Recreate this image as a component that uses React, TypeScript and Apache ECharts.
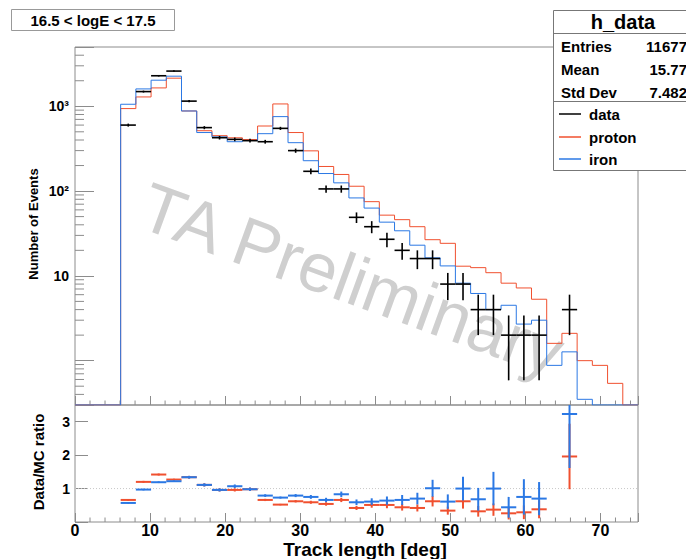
import React, { useEffect, useRef } from 'react';
import * as echarts from 'echarts';

// ---- binning: 37 bins over [0, 75] deg ----
const BIN_COUNT = 37;
const X_MIN = 0;
const X_MAX = 75;
const Y_MIN = 0.3;
const Y_MAX = 5000;

// ---- upper pad: counts per bin (bin 0 .. 36) ----
const dataCounts = [
  0, 0, 0, 600, 1490, 2290, 2600, 1150, 560, 426, 407, 393, 382, 549, 300, 171, 106, 106, 49,
  38, 27, 20, 16, 16, 8, 8, 4, 4, 2, 2, 2, 0, 4, 0, 0, 0, 0,
];
const protonCounts = [
  0, 0, 0, 939, 1288, 1646, 2144, 880, 515, 450, 425, 405, 585, 1065, 490, 298, 195, 157, 114,
  75, 52, 46, 38, 26.7, 24.2, 13, 12.5, 10.9, 8.2, 7.2, 5.3, 1.6, 2.1, 1.0, 0.88, 0.54, 0,
];
const ironCounts = [
  0, 0, 0, 1056, 1602, 2030, 2264, 880, 490, 435, 382, 395, 475, 755, 372, 228, 161, 125, 83,
  63, 43, 34, 23, 16.3, 13.1, 8.2, 6.2, 4.0, 4.5, 2.7, 3.0, 0.88, 1.27, 0.35, 0, 0, 0,
];

// ---- lower pad: data / MC ratios per bin ----
const ratioProton = [
  null, null, null, 0.66, 1.2, 1.42, 1.27, 1.34, 1.11, 0.96, 0.96, 0.98, 0.66, 0.52, 0.62, 0.59,
  0.54, 0.66, 0.42, 0.51, 0.51, 0.44, 0.42, 0.62, 0.34, 0.62, 0.32, 0.37, 0.26, 0.29, 0.38, null,
  1.96, null, null, null, null,
];
const ratioIron = [
  null, null, null, 0.57, 0.97, 1.19, 1.22, 1.34, 1.11, 0.96, 1.07, 0.98, 0.79, 0.73, 0.79, 0.75,
  0.66, 0.83, 0.59, 0.61, 0.64, 0.66, 0.7, 1.01, 0.61, 1.0, 0.68, 1.0, 0.44, 0.75, 0.7, null,
  3.23, null, null, null, null,
];

// ---- texts ----
const TITLE = '16.5 < logE < 17.5';
const STATS_NAME = 'h_data';
const STATS_LABELS = ['Entries', 'Mean', 'Std Dev'];
const STATS_VALUES = ['11677', '15.77', '7.482'];
const LEGEND_NAMES = ['data', 'proton', 'iron'];
const X_TITLE = 'Track length [deg]';
const Y_TITLE = 'Number of Events';
const RATIO_TITLE = 'Data/MC ratio';
const WATERMARK = 'TA Preliminary';

const X_MINOR_TICKS = [2, 4, 6, 8, 12, 14, 16, 18, 22, 24, 26, 28, 32, 34, 36, 38, 42, 44, 46, 48, 52, 54, 56, 58, 62, 64, 66, 68, 72, 74];
const Y_MINOR_TICKS = [
  0.4, 0.5, 0.6, 0.7, 0.8, 0.9, 2, 3, 4, 5, 6, 7, 8, 9, 20, 30, 40, 50, 60, 70, 80, 90,
  200, 300, 400, 500, 600, 700, 800, 900, 2000, 3000, 4000,
];

const COLORS = { data: '#000000', proton: '#f0502f', iron: '#2b78e4' };
const FONT = '"Liberation Sans", Arial, Helvetica, sans-serif';
const FRAME = '#8c8c8c';

const binW = (X_MAX - X_MIN) / BIN_COUNT;
const lo = (k: number) => X_MIN + k * binW;
const hi = (k: number) => X_MIN + (k + 1) * binW;

function histLine(vals: number[]) {
  const pts: number[][] = [[X_MIN, Y_MIN]];
  vals.forEach((v, k) => {
    const y = Math.max(v, Y_MIN);
    pts.push([lo(k), y]);
    pts.push([hi(k), y]);
  });
  pts.push([X_MAX, Y_MIN]);
  return pts;
}

function crossRender(color: string, width: number, yLo: number, yHi: number) {
  return (params: any, api: any) => {
    const x0 = api.value(0);
    const x1 = api.value(1);
    const y = api.value(2);
    const e = api.value(3);
    const xm = (x0 + x1) / 2;
    const a = api.coord([x0, y]);
    const b = api.coord([x1, y]);
    const t = api.coord([xm, Math.min(y + e, yHi)]);
    const d = api.coord([xm, Math.max(y - e, yLo)]);
    const style = { stroke: color, lineWidth: width };
    return {
      type: 'group',
      children: [
        { type: 'line', shape: { x1: a[0], y1: a[1], x2: b[0], y2: b[1] }, style },
        { type: 'line', shape: { x1: t[0], y1: t[1], x2: d[0], y2: d[1] }, style },
      ],
    };
  };
}

function tickRender(dx: number, dy: number) {
  return (params: any, api: any) => {
    const p = api.coord([api.value(0), api.value(1)]);
    return {
      type: 'line',
      shape: { x1: p[0], y1: p[1], x2: p[0] + dx, y2: p[1] + dy },
      style: { stroke: FRAME, lineWidth: 1 },
    };
  };
}

export default function App() {
  const ref = useRef<HTMLDivElement>(null);
  useEffect(() => {
    document.body.style.margin = '0';
    if (!ref.current) return;
    const chart = echarts.init(ref.current, undefined, { renderer: 'svg' });

    const dataPts = dataCounts
      .map((n, k) => (n > 0 ? [lo(k), hi(k), n, Math.sqrt(n)] : null))
      .filter(Boolean);
    const ratioPts = (arr: (number | null)[]) =>
      arr
        .map((r, k) => (r != null ? [lo(k), hi(k), r, r / Math.sqrt(dataCounts[k])] : null))
        .filter(Boolean);

    const logLabel = (v: number) => {
      const l = Math.log10(v);
      if (Math.abs(l - Math.round(l)) > 1e-6) return '';
      const e = Math.round(l);
      if (e === 1) return '10';
      if (e === 2) return '10²';
      if (e === 3) return '10³';
      return '';
    };

    const legendY = [114, 137, 159];
    const statsY = [46, 69, 92];

    const option: any = {
      animation: false,
      textStyle: { fontFamily: FONT },
      grid: [
        { left: 75, top: 47, width: 563, height: 358, show: true, borderColor: FRAME, borderWidth: 1 },
        { left: 75, top: 405, width: 563, height: 117, show: true, borderColor: FRAME, borderWidth: 1 },
      ],
      xAxis: [
        {
          gridIndex: 0, type: 'value', min: X_MIN, max: X_MAX, interval: 10,
          axisLine: { show: false },
          axisTick: { inside: true, length: 9, lineStyle: { color: FRAME } },
          axisLabel: { show: false },
          splitLine: { show: false },
        },
        {
          gridIndex: 1, type: 'value', min: X_MIN, max: X_MAX, interval: 10,
          axisLine: { show: false },
          axisTick: { inside: true, length: 9, lineStyle: { color: FRAME } },
          axisLabel: {
            show: true, color: '#000', fontWeight: 'bold', fontSize: 16, margin: 0, fontFamily: FONT,
            formatter: (v: number) => (v % 10 === 0 ? String(v) : ''),
          },
          splitLine: { show: false },
        },
      ],
      yAxis: [
        {
          gridIndex: 0, type: 'log', logBase: 10, min: Y_MIN, max: Y_MAX,
          axisLine: { show: false },
          axisTick: { inside: true, length: 19, lineStyle: { color: FRAME } },
          axisLabel: { color: '#000', fontWeight: 'bold', fontSize: 14, margin: 6, formatter: logLabel, fontFamily: FONT },
          splitLine: { show: false },
        },
        {
          gridIndex: 1, type: 'value', min: 0, max: 3.5, interval: 1,
          axisLine: { show: false },
          axisTick: { inside: true, length: 13, lineStyle: { color: FRAME } },
          axisLabel: {
            color: '#000', fontWeight: 'bold', fontSize: 14, margin: 5, fontFamily: FONT,
            formatter: (v: number) => (v >= 1 && v <= 3 && Number.isInteger(v) ? String(v) : ''),
          },
          splitLine: { show: false },
        },
      ],
      graphic: [
        {
          type: 'text', z: 1, x: 352, y: 280, rotation: (-20 * Math.PI) / 180,
          style: {
            text: WATERMARK, fill: '#cfcfcf', font: `69px ${FONT}`,
            align: 'center', verticalAlign: 'middle',
          },
        },
        {
          type: 'text', x: 365, y: 549,
          style: { text: X_TITLE, fill: '#000', font: `bold 19px ${FONT}`, align: 'center', verticalAlign: 'middle' },
        },
        {
          type: 'text', x: 33, y: 224, rotation: Math.PI / 2,
          style: { text: Y_TITLE, fill: '#000', font: `bold 13px ${FONT}`, align: 'center', verticalAlign: 'middle' },
        },
        {
          type: 'text', x: 38, y: 462, rotation: Math.PI / 2,
          style: { text: RATIO_TITLE, fill: '#000', font: `bold 15px ${FONT}`, align: 'center', verticalAlign: 'middle' },
        },
        // title box
        {
          type: 'rect', z: 10, shape: { x: 11.5, y: 9.5, width: 163, height: 21 },
          style: { fill: '#fff', stroke: '#999', lineWidth: 1 },
        },
        {
          type: 'text', z: 11, x: 93, y: 20,
          style: { text: TITLE, fill: '#000', font: `bold 15px ${FONT}`, align: 'center', verticalAlign: 'middle' },
        },
        // stats + legend box
        {
          type: 'rect', z: 10, shape: { x: 553.5, y: 10.5, width: 140, height: 160 },
          style: { fill: '#fff', stroke: '#777', lineWidth: 1 },
        },
        { type: 'line', z: 11, shape: { x1: 553.5, y1: 33.5, x2: 693, y2: 33.5 }, style: { stroke: '#777', lineWidth: 1 } },
        { type: 'line', z: 11, shape: { x1: 553.5, y1: 101.5, x2: 693, y2: 101.5 }, style: { stroke: '#777', lineWidth: 1 } },
        {
          type: 'text', z: 11, x: 623, y: 22,
          style: { text: STATS_NAME, fill: '#000', font: `bold 20px ${FONT}`, align: 'center', verticalAlign: 'middle' },
        },
        ...STATS_LABELS.map((s, i) => ({
          type: 'text', z: 11, x: 561, y: statsY[i],
          style: { text: s, fill: '#000', font: `bold 15px ${FONT}`, align: 'left', verticalAlign: 'middle' },
        })),
        ...STATS_VALUES.map((s, i) => ({
          type: 'text', z: 11, x: 687, y: statsY[i],
          style: { text: s, fill: '#000', font: `bold 15px ${FONT}`, align: 'right', verticalAlign: 'middle' },
        })),
        ...LEGEND_NAMES.map((s, i) => ({
          type: 'line', z: 11, shape: { x1: 559, y1: legendY[i], x2: 581, y2: legendY[i] },
          style: { stroke: (COLORS as any)[s], lineWidth: 1.5 },
        })),
        ...LEGEND_NAMES.map((s, i) => ({
          type: 'text', z: 11, x: 589, y: legendY[i],
          style: { text: s, fill: '#000', font: `bold 15px ${FONT}`, align: 'left', verticalAlign: 'middle' },
        })),
      ],
      series: [
        {
          type: 'custom', xAxisIndex: 0, yAxisIndex: 0, silent: true,
          data: Y_MINOR_TICKS.map((v) => [X_MIN, v]),
          renderItem: tickRender(9, 0),
        },
        {
          type: 'custom', xAxisIndex: 0, yAxisIndex: 0, silent: true,
          data: X_MINOR_TICKS.map((v) => [v, Y_MIN]),
          renderItem: tickRender(0, -4.5),
        },
        {
          type: 'custom', xAxisIndex: 1, yAxisIndex: 1, silent: true,
          data: X_MINOR_TICKS.map((v) => [v, 0]),
          renderItem: tickRender(0, -4.5),
        },
        {
          name: 'proton', type: 'line', xAxisIndex: 0, yAxisIndex: 0, data: histLine(protonCounts),
          showSymbol: false, symbol: 'none', lineStyle: { color: COLORS.proton, width: 1 }, z: 3,
        },
        {
          name: 'iron', type: 'line', xAxisIndex: 0, yAxisIndex: 0, data: histLine(ironCounts),
          showSymbol: false, symbol: 'none', lineStyle: { color: COLORS.iron, width: 1 }, z: 3,
        },
        {
          name: 'data', type: 'custom', xAxisIndex: 0, yAxisIndex: 0, z: 4,
          encode: { x: [0, 1], y: 2 }, data: dataPts,
          renderItem: crossRender(COLORS.data, 1.6, Y_MIN, Y_MAX),
        },
        {
          type: 'line', xAxisIndex: 1, yAxisIndex: 1, data: [[X_MIN, 1], [X_MAX, 1]],
          showSymbol: false, symbol: 'none', lineStyle: { color: '#c8c8c8', width: 1, type: [1, 2] }, z: 2,
        },
        {
          name: 'ratio proton', type: 'custom', xAxisIndex: 1, yAxisIndex: 1, z: 4,
          encode: { x: [0, 1], y: 2 }, data: ratioPts(ratioProton),
          renderItem: crossRender(COLORS.proton, 2, 0, 3.5),
        },
        {
          name: 'ratio iron', type: 'custom', xAxisIndex: 1, yAxisIndex: 1, z: 5,
          encode: { x: [0, 1], y: 2 }, data: ratioPts(ratioIron),
          renderItem: crossRender(COLORS.iron, 2, 0, 3.5),
        },
      ],
    };
    chart.setOption(option);
    return () => chart.dispose();
  }, []);
  return <div ref={ref} style={{ width: 686, height: 559 }} />;
}
